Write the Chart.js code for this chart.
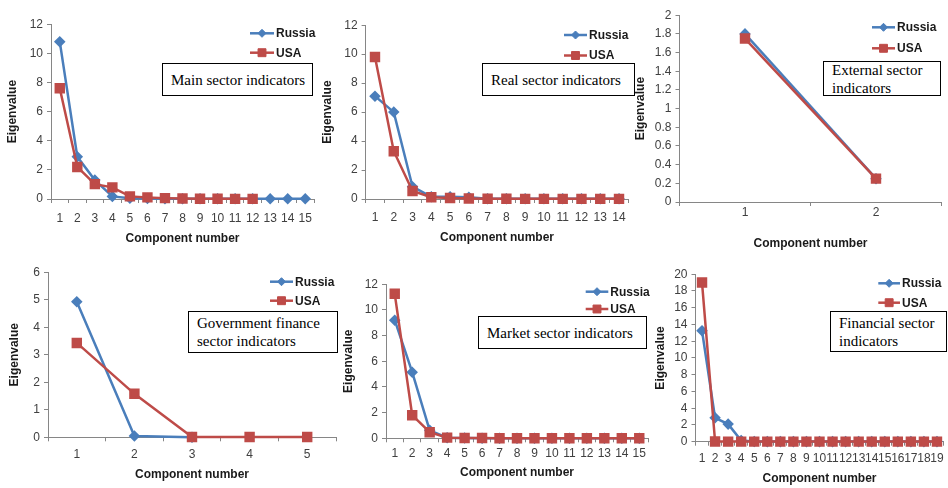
<!DOCTYPE html>
<html><head><meta charset="utf-8">
<script src="https://cdn.jsdelivr.net/npm/chart.js@4"></script>
<style>
html,body{margin:0;padding:0;background:#fff;width:948px;height:488px;overflow:hidden;position:relative}
canvas{position:absolute}
.box{position:absolute;box-sizing:border-box;border:1.5px solid #000;background:#fff;font-family:"Liberation Serif","Times New Roman",serif;font-size:15px;color:#000;padding-left:8px;display:flex;flex-direction:column;justify-content:center;line-height:18px;white-space:nowrap;overflow:hidden}
</style></head><body>
<script>
// ---------- DATA ----------
const seriesNames = ['Russia', 'USA'];

const mainComponents = ['1','2','3','4','5','6','7','8','9','10','11','12','13','14','15'];
const mainRussia = [10.8, 2.9, 1.3, 0.18, 0.05, 0.03, 0.02, 0.01, 0.01, 0.01, 0.01, 0.01, 0.01, 0.01, 0.01];
const mainUSA = [7.6, 2.2, 1.02, 0.8, 0.18, 0.11, 0.06, 0.03, 0.02, 0.02, 0.01, 0.01];

const realComponents = ['1','2','3','4','5','6','7','8','9','10','11','12','13','14'];
const realRussia = [7.1, 6.0, 0.85, 0.15, 0.15, 0.12, 0.02, 0.02, 0.01, 0.01, 0.01, 0.01, 0.01, 0.01];
const realUSA = [9.8, 3.3, 0.55, 0.12, 0.07, 0.04, 0.02, 0.02, 0.01, 0.01, 0.01, 0.01, 0.01, 0.01];

const externalComponents = ['1','2'];
const externalRussia = [1.8, 0.25];
const externalUSA = [1.75, 0.25];

const govComponents = ['1','2','3','4','5'];
const govRussia = [4.93, 0.05, 0.0];
const govUSA = [3.43, 1.58, 0.01, 0.01, 0.01];

const marketComponents = ['1','2','3','4','5','6','7','8','9','10','11','12','13','14','15'];
const marketRussia = [9.2, 5.15, 0.62, 0.05, 0.02, 0.01, 0.01, 0.01, 0.01, 0.01, 0.01, 0.01, 0.01, 0.01, 0.01];
const marketUSA = [11.25, 1.8, 0.47, 0.05, 0.02, 0.02, 0.01, 0.01, 0.01, 0.01, 0.01, 0.01, 0.01, 0.01, 0.01];

const finComponents = ['1','2','3','4','5','6','7','8','9','10','11','12','13','14','15','16','17','18','19'];
const finRussia = [13.25, 2.85, 2.1, 0.15, 0.02, 0.01, 0.01, 0.01, 0.01, 0.01, 0.01, 0.01, 0.01, 0.01, 0.01, 0.01, 0.01, 0.01, 0.01];
const finUSA = [19.0, 0.02, 0.01, 0.01, 0.01, 0.01, 0.01, 0.01, 0.01, 0.01, 0.01, 0.01, 0.01, 0.01, 0.01, 0.01, 0.01, 0.01, 0.01];

const yAxisTitle = 'Eigenvalue';
const xAxisTitle = 'Component number';

// ---------- LAYOUT ----------
const panels = [
  {labels: mainComponents, russia: mainRussia, usa: mainUSA, yMax: 12, step: 2,
   area: [51, 23, 314, 199], yTitleX: 12.5, xTitleY: 239, xPad: 8,
   legend: [250, 274, 33.3, 52.7], box: [162, 63, 151, 33], text: ['Main sector indicators']},
  {labels: realComponents, russia: realRussia, usa: realUSA, yMax: 12, step: 2,
   area: [365.6, 24, 628.4, 199], yTitleX: 328, xTitleY: 238, xPad: 7,
   legend: [564, 587, 35, 55.5], box: [482, 63, 153, 33], text: ['Real sector indicators']},
  {labels: externalComponents, russia: externalRussia, usa: externalUSA, yMax: 2, step: 0.2,
   area: [679.5, 14, 941.5, 202], yTitleX: 640.5, xTitleY: 244, xPad: -1,
   legend: [872, 895, 27.3, 48.3], box: [823, 61, 118, 35], text: ['External sector', 'indicators']},
  {labels: govComponents, russia: govRussia, usa: govUSA, yMax: 6, step: 1,
   area: [48, 271, 336, 437.3], yTitleX: 15, xTitleY: 475, xPad: 6,
   legend: [270, 293, 281.7, 300.7], box: [188, 311, 150, 42], text: ['Government finance', 'sector indicators']},
  {labels: marketComponents, russia: marketRussia, usa: marketUSA, yMax: 12, step: 2,
   area: [386, 283, 648, 438.3], yTitleX: 349, xTitleY: 473, xPad: 4.5,
   legend: [585.7, 608.3, 291.7, 309], box: [478, 316, 169, 33], text: ['Market sector indicators']},
  {labels: finComponents, russia: finRussia, usa: finUSA, yMax: 20, step: 2,
   area: [695.5, 273, 943.5, 441.7], yTitleX: 660.5, xTitleY: 479, xPad: 6,
   legend: [878.3, 900, 283.3, 302.7], box: [830, 311, 117, 41], text: ['Financial sector', 'indicators']}
];

const BLUE = '#4A7EBB';
const RED = '#BE4B48';
const AXIS = '#868686';
const TICKCOL = '#404040';
const FONT = '"Liberation Sans", Arial, sans-serif';

const excelLegend = {
  id: 'excelLegend',
  afterDraw(chart, args, opts) {
    const ctx = chart.ctx;
    ctx.save();
    chart.data.datasets.forEach((ds, i) => {
      const y = opts.ys[i];
      ctx.strokeStyle = ds.borderColor;
      ctx.lineWidth = ds.borderWidth;
      ctx.beginPath(); ctx.moveTo(opts.x1, y); ctx.lineTo(opts.x2, y); ctx.stroke();
      ctx.fillStyle = ds.pointBackgroundColor;
      ctx.strokeStyle = ds.pointBorderColor;
      ctx.lineWidth = 1;
      Chart.helpers.drawPoint(ctx, {pointStyle: ds.pointStyle, radius: ds.pointRadius, borderWidth: 1, rotation: 0}, (opts.x1 + opts.x2) / 2, y);
      ctx.fillStyle = '#1a1a1a';
      ctx.font = 'bold 12px ' + FONT;
      ctx.textBaseline = 'middle';
      ctx.textAlign = 'left';
      ctx.fillText(ds.label, opts.x2 + 2, y + 0.5);
    });
    ctx.restore();
  }
};

panels.forEach(p => {
  const [al, at, ar, ab] = p.area;
  const cLeft = Math.floor(p.yTitleX - 7.2);
  const cTop = Math.floor(at - 10);
  const cBottom = Math.round(p.xTitleY + 7.2);
  const cRight = Math.ceil(ar) + 12;
  const W = cRight - cLeft, H = cBottom - cTop;
  const yW = al - cLeft;
  const xH = cBottom - ab;
  const cv = document.createElement('canvas');
  cv.width = W; cv.height = H;
  cv.style.left = cLeft + 'px'; cv.style.top = cTop + 'px';
  cv.style.width = W + 'px'; cv.style.height = H + 'px';
  document.body.appendChild(cv);

  new Chart(cv, {
    type: 'line',
    data: {
      labels: p.labels,
      datasets: [
        {label: seriesNames[0], data: p.russia, borderColor: BLUE, backgroundColor: BLUE,
         pointBackgroundColor: BLUE, pointBorderColor: BLUE, pointStyle: 'rectRot', pointRadius: 4,
         borderWidth: 2.5, tension: 0, clip: false, order: 1},
        {label: seriesNames[1], data: p.usa, borderColor: RED, backgroundColor: RED,
         pointBackgroundColor: RED, pointBorderColor: RED, pointStyle: 'rect', pointRadius: 5.6,
         borderWidth: 2.5, tension: 0, clip: false, order: 0}
      ]
    },
    options: {
      responsive: false, animation: false, devicePixelRatio: 1,
      layout: {padding: {left: 0, top: at - cTop, right: cRight - ar, bottom: 0}},
      plugins: {
        legend: {display: false}, tooltip: {enabled: false},
        excelLegend: {x1: p.legend[0] - cLeft, x2: p.legend[1] - cLeft, ys: [p.legend[2] - cTop, p.legend[3] - cTop]}
      },
      scales: {
        x: {
          type: 'category', offset: true,
          grid: {display: true, drawOnChartArea: false, offset: true, color: AXIS, tickLength: 4, tickWidth: 1},
          border: {display: true, color: AXIS, width: 1},
          ticks: {autoSkip: false, maxRotation: 0, minRotation: 0, padding: p.xPad, color: TICKCOL, font: {family: FONT, size: 12}},
          title: {display: true, text: xAxisTitle, color: '#1a1a1a', padding: 0, font: {family: FONT, size: 12, weight: 'bold'}},
          afterFit(s) { s.height = xH; }
        },
        y: {
          type: 'linear', min: 0, max: p.yMax,
          grid: {display: true, drawOnChartArea: false, color: AXIS, tickLength: 4, tickWidth: 1},
          border: {display: true, color: AXIS, width: 1},
          ticks: {stepSize: p.step, autoSkip: false, maxTicksLimit: 50, padding: 4, color: TICKCOL, font: {family: FONT, size: 12},
                  callback: v => String(Math.round(v * 10) / 10)},
          title: {display: true, text: yAxisTitle, color: '#1a1a1a', padding: 0, font: {family: FONT, size: 12, weight: 'bold'}},
          afterFit(s) { s.width = yW; }
        }
      }
    },
    plugins: [excelLegend]
  });

  const b = document.createElement('div');
  b.className = 'box';
  b.style.left = p.box[0] + 'px'; b.style.top = p.box[1] + 'px';
  b.style.width = p.box[2] + 'px'; b.style.height = p.box[3] + 'px';
  p.text.forEach(t => { const d = document.createElement('div'); d.textContent = t; b.appendChild(d); });
  document.body.appendChild(b);
});
</script>
</body></html>
